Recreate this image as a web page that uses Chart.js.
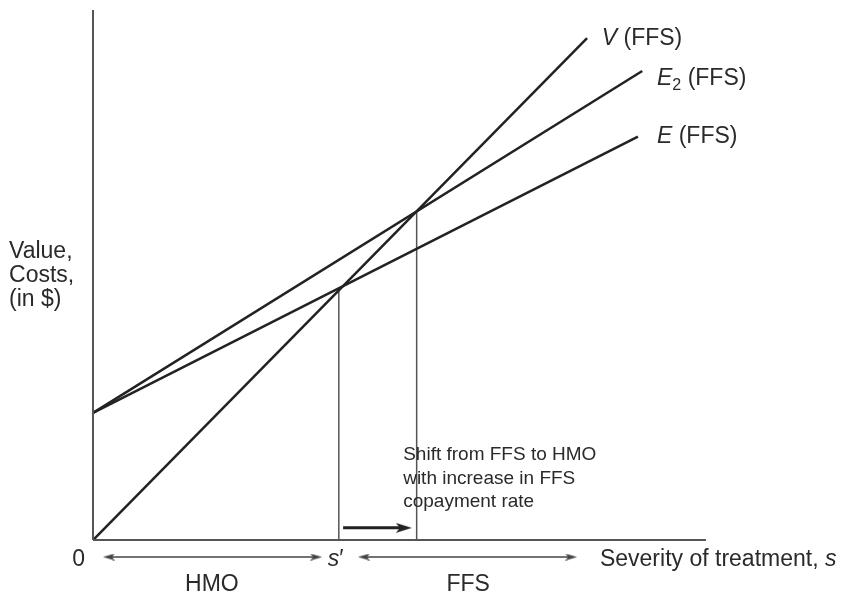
<!DOCTYPE html>
<html>
<head>
<meta charset="utf-8">
<script src="https://cdn.jsdelivr.net/npm/chart.js@4.4.1/dist/chart.umd.min.js"></script>
<style>
  body { margin: 0; background: #fff; }
  canvas { display: block; }
</style>
</head>
<body>
<canvas id="ffs-chart" width="845" height="592"></canvas>
<script>
// values (x: severity, y: value/costs, both 0..100)
const xAxisLine = [{x: 0, y: 0}, {x: 100, y: 0}];
const yAxisLine = [{x: 0, y: 0}, {x: 0, y: 100}];
const vLine = [{x: 0, y: 0}, {x: 80.6, y: 94.7}];
const e2Line = [{x: 0, y: 24}, {x: 89.6, y: 88.5}];
const eLine = [{x: 0, y: 24}, {x: 88.9, y: 76.1}];
const sPrimeLine = [{x: 40.1, y: 0}, {x: 40.1, y: 47.5}];
const sShiftLine = [{x: 52.8, y: 0}, {x: 52.8, y: 62.2}];
const shiftArrow = [{x: 40.8, y: 2.3}, {x: 50.7, y: 2.3}];
const hmoRange = [{x: 2.6, y: -3.2}, {x: 36.4, y: -3.2}];
const ffsRange = [{x: 44.2, y: -3.2}, {x: 78.0, y: -3.2}];

// text, anchored on the same scale units
const labels = [
    {x: 83.0, y: 93.4, runs: [{t: 'V', i: true}, {t: ' (FFS)'}]},
    {x: 92.0, y: 85.8, runs: [{t: 'E', i: true}, {t: '2', sub: true}, {t: ' (FFS)'}]},
    {x: 92.0, y: 74.9, runs: [{t: 'E', i: true}, {t: ' (FFS)'}]},
    {x: -13.7, y: 53.2, lines: ['Value,', 'Costs,', '(in $)'], lh: 24},
    {x: 50.6, y: 15.1, lines: ['Shift from FFS to HMO', 'with increase in FFS', 'copayment rate'], lh: 23.5, size: 19},
    {x: -3.4, y: -4.9, runs: [{t: '0'}]},
    {x: 38.3, y: -4.9, runs: [{t: 's', i: true}, {t: '\u2032'}]},
    {x: 82.7, y: -4.9, runs: [{t: 'Severity of treatment, '}, {t: 's', i: true}]},
    {x: 19.4, y: -9.6, runs: [{t: 'HMO'}], center: true},
    {x: 61.2, y: -9.6, runs: [{t: 'FFS'}], center: true}
];

const FONT = '"Liberation Sans", Arial, sans-serif';
const INK = '#222';

// arrowhead pictures used as point styles (pointing right, rotated per point)
function arrowHead(w, h, color) {
    const c = document.createElement('canvas');
    c.width = w; c.height = h;
    const g = c.getContext('2d');
    g.fillStyle = color;
    g.beginPath();
    g.moveTo(0, 0);
    g.lineTo(w, h / 2);
    g.lineTo(0, h);
    g.lineTo(w * 0.25, h / 2);
    g.closePath();
    g.fill();
    return c;
}
const smallHead = arrowHead(12, 7, '#444');
const bigHead = arrowHead(16, 10, INK);

function drawRuns(ctx, runs, x, y, size, center) {
    let w = 0;
    runs.forEach(r => {
        ctx.font = (r.i ? 'italic ' : '') + (r.sub ? size * 0.7 : size) + 'px ' + FONT;
        w += ctx.measureText(r.t).width;
    });
    let cx = center ? x - w / 2 : x;
    runs.forEach(r => {
        const s = r.sub ? size * 0.7 : size;
        ctx.font = (r.i ? 'italic ' : '') + s + 'px ' + FONT;
        ctx.fillText(r.t, cx, r.sub ? y + size * 0.22 : y);
        cx += ctx.measureText(r.t).width;
    });
}

const textPlugin = {
    id: 'texts',
    afterDatasetsDraw(chart) {
        const ctx = chart.ctx;
        const xs = chart.scales.x, ys = chart.scales.y;
        ctx.save();
        ctx.fillStyle = '#2a2a2a';
        ctx.textBaseline = 'alphabetic';
        labels.forEach(l => {
            const px = xs.getPixelForValue(l.x);
            const py = ys.getPixelForValue(l.y);
            const size = l.size || 23;
            if (l.lines) {
                l.lines.forEach((t, k) => drawRuns(ctx, [{t: t}], px, py + k * l.lh, size, false));
            } else {
                drawRuns(ctx, l.runs, px, py, size, l.center);
            }
        });
        ctx.restore();
    }
};

function seg(data, width, color, extra) {
    return Object.assign({
        data: data,
        borderColor: color,
        borderWidth: width,
        pointRadius: 0,
        showLine: true,
        fill: false,
        tension: 0,
        clip: false
    }, extra || {});
}

const ctx = document.getElementById('ffs-chart').getContext('2d');
var chart = new Chart(ctx, {
    type: 'line',
    data: {
        datasets: [
            seg(xAxisLine, 2, '#555'),
            seg(yAxisLine, 2, '#555'),
            seg(vLine, 2.5, INK),
            seg(e2Line, 2.5, INK),
            seg(eLine, 2.5, INK),
            seg(sPrimeLine, 1.5, '#555'),
            seg(sShiftLine, 1.5, '#555'),
            seg(shiftArrow, 3, INK, {
                pointRadius: [0, 8], pointStyle: [false, bigHead], pointRotation: [0, 0]
            }),
            seg(hmoRange, 1.5, '#444', {
                pointRadius: [6, 6], pointStyle: smallHead, pointRotation: [180, 0]
            }),
            seg(ffsRange, 1.5, '#444', {
                pointRadius: [6, 6], pointStyle: smallHead, pointRotation: [180, 0]
            })
        ]
    },
    plugins: [textPlugin],
    options: {
        responsive: false,
        animation: false,
        layout: {autoPadding: false, padding: {left: 93, right: 139, top: 10, bottom: 0}},
        plugins: {legend: {display: false}, tooltip: {enabled: false}},
        scales: {
            x: {
                type: 'linear', min: 0, max: 100, display: false
            },
            y: {
                type: 'linear', min: -9.8, max: 100, display: false
            }
        }
    }
});
</script>
</body>
</html>
